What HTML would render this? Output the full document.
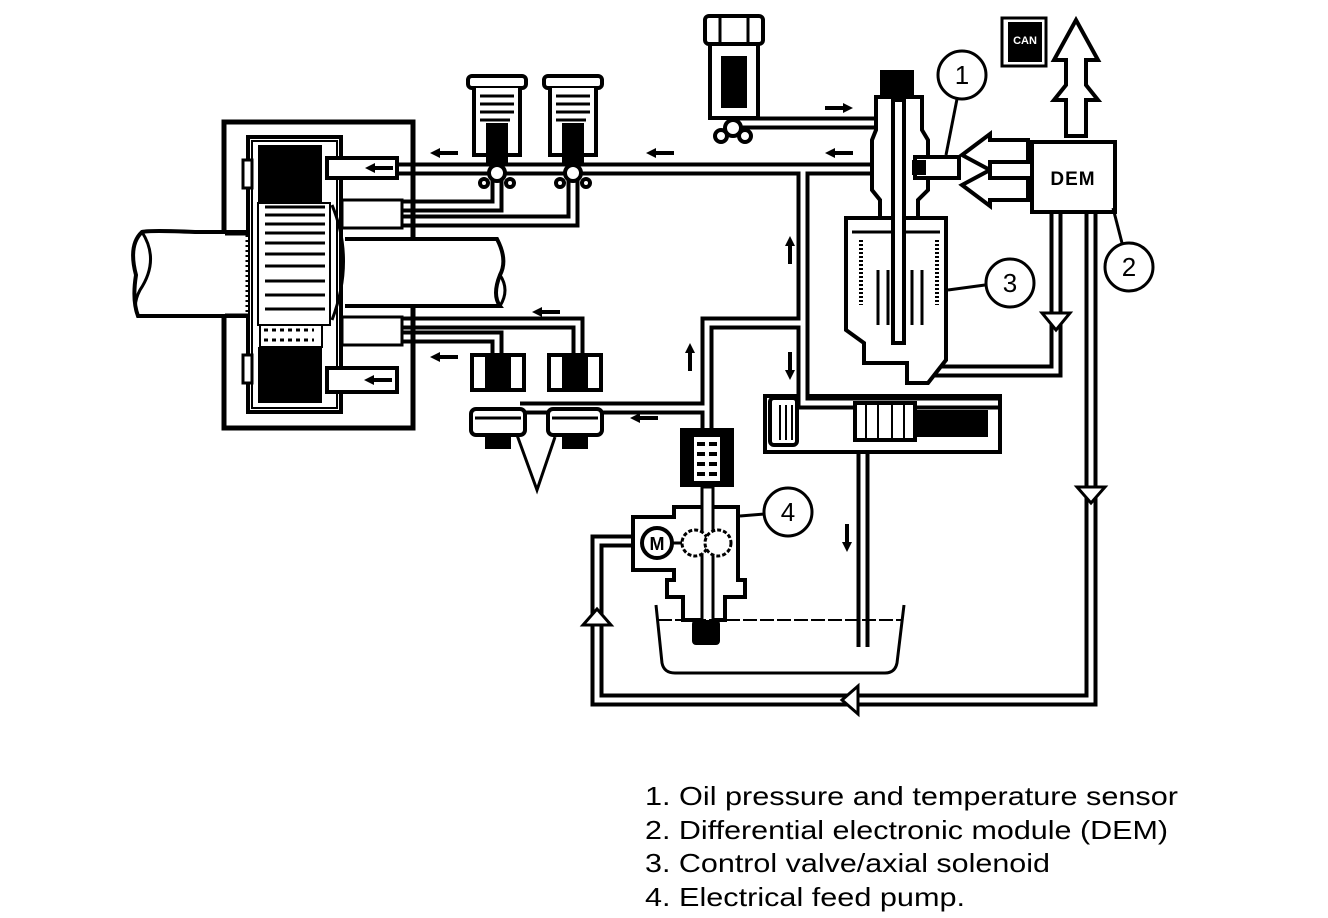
<!DOCTYPE html>
<html><head><meta charset="utf-8"><style>
html,body{margin:0;padding:0;background:#fff;}
svg{display:block;}
.t{font-family:"Liberation Sans",sans-serif;font-size:26px;fill:#000;}
</style></head><body>
<svg width="1328" height="918" viewBox="0 0 1328 918" xmlns="http://www.w3.org/2000/svg">
<rect width="1328" height="918" fill="#fff"/>
<defs>
<g id="al"><path d="M0 0 L10 -5 L10 -2 L28 -2 L28 2 L10 2 L10 5 Z" fill="#000"/></g>
</defs>

<!-- PIPES (double line) -->
<g fill="none" stroke-linejoin="miter" stroke-linecap="butt">
<g stroke="#000" stroke-width="13">
  <path d="M395 169 H880"/>
  <path d="M733 123 H880"/>
  <path d="M803 169 V323 H707 V440"/>
  <path d="M803 323 V403 H1000"/>
  <path d="M497 169 V206 H395"/>
  <path d="M573 169 V221 H395"/>
  <path d="M395 323 H578 V360"/>
  <path d="M395 337 H497 V360"/>
  <path d="M520 408 H707"/>
  <path d="M863 450 V647"/>
  <path d="M1056 212 V371 H935"/>
  <path d="M1091 212 V700 H597 V541 H632"/>
</g>
<g stroke="#fff" stroke-width="5">
  <path d="M395 169 H880"/>
  <path d="M733 123 H880"/>
  <path d="M803 169 V323 H707 V440"/>
  <path d="M803 323 V403 H1000"/>
  <path d="M497 169 V206 H395"/>
  <path d="M573 169 V221 H395"/>
  <path d="M395 323 H578 V360"/>
  <path d="M395 337 H497 V360"/>
  <path d="M520 408 H707"/>
  <path d="M863 450 V647"/>
  <path d="M1056 212 V371 H935"/>
  <path d="M1091 212 V700 H597 V541 H632"/>
</g>
</g>

<!-- hollow arrowheads on return pipes -->
<g fill="#fff" stroke="#000" stroke-width="3">
  <path d="M1042 313 L1070 313 L1056 330 Z"/>
  <path d="M1077 487 L1105 487 L1091 503 Z"/>
  <path d="M583 625 L611 625 L597 609 Z"/>
  <path d="M858 686 L858 714 L842 700 Z"/>
</g>

<!-- housing -->
<g fill="none" stroke="#000">
  <rect x="224" y="122" width="189" height="306" stroke-width="5"/>
  <rect x="248" y="137" width="93" height="275" stroke-width="4"/>
  <rect x="252" y="141" width="85" height="267" stroke-width="2"/>
</g>
<rect x="243" y="160" width="9" height="28" fill="#fff" stroke="#000" stroke-width="3"/>
<rect x="243" y="355" width="9" height="28" fill="#fff" stroke="#000" stroke-width="3"/>
<rect x="258" y="145" width="64" height="58" fill="#000"/>
<rect x="258" y="347" width="64" height="56" fill="#000"/>
<!-- rotor -->
<rect x="258" y="203" width="72" height="122" fill="#fff" stroke="#000" stroke-width="2"/>
<g stroke="#000" stroke-width="3">
  <line x1="265" y1="207" x2="325" y2="207"/><line x1="265" y1="215" x2="325" y2="215"/>
  <line x1="265" y1="224" x2="325" y2="224"/><line x1="265" y1="233" x2="325" y2="233"/>
  <line x1="265" y1="243" x2="325" y2="243"/><line x1="265" y1="254" x2="325" y2="254"/>
  <line x1="265" y1="266" x2="325" y2="266"/><line x1="265" y1="281" x2="325" y2="281"/>
  <line x1="265" y1="295" x2="325" y2="295"/><line x1="265" y1="309" x2="325" y2="309"/>
</g>
<rect x="260" y="325" width="62" height="22" fill="#fff" stroke="#000" stroke-width="2"/>
<g stroke="#000" stroke-width="3"><path d="M264 330 h50 M264 340 h50" stroke-dasharray="4 4"/></g>
<path d="M332 205 Q355 260 332 320" fill="none" stroke="#000" stroke-width="3"/>
<!-- pistons -->
<rect x="327" y="158" width="70" height="20" fill="#fff" stroke="#000" stroke-width="4"/>
<rect x="327" y="368" width="70" height="24" fill="#fff" stroke="#000" stroke-width="4"/>
<!-- connection blocks -->
<g fill="#fff" stroke="#000" stroke-width="3">
  <rect x="342" y="200" width="60" height="28"/>
  <rect x="342" y="317" width="60" height="28"/>
</g>
<!-- left shaft -->
<path d="M248 232 H195 Q150 230 142 232 Q128 245 136 275 Q132 300 138 316 H195 H248" fill="#fff" stroke="#000" stroke-width="4"/>
<path d="M142 232 Q160 260 140 290 Q132 305 138 316" fill="none" stroke="#000" stroke-width="3"/>
<rect x="225" y="234" width="22" height="81" fill="#fff"/>
<path d="M225 234 H248 M225 315 H248" stroke="#000" stroke-width="3"/>
<line x1="247" y1="235" x2="247" y2="315" stroke="#000" stroke-width="3" stroke-dasharray="2 3"/>
<!-- right shaft -->
<path d="M345 239 H497 Q508 260 500 275 Q492 295 500 306 H345" fill="#fff" stroke="#000" stroke-width="4"/>
<path d="M500 275 Q510 290 500 306" fill="none" stroke="#000" stroke-width="3"/>

<!-- top-left valves -->
<g id="tv" fill="#fff" stroke="#000" stroke-width="4">
  <rect x="468" y="76" width="58" height="12" rx="4"/>
  <path d="M474 88 V155 H520 V88"/>
  <g stroke-width="3"><path d="M480 96 h34 M480 104 h34 M480 112 h34 M480 120 h30"/></g>
  <rect x="488" y="125" width="18" height="38" fill="#000"/>
  <circle cx="497" cy="173" r="8" fill="#fff"/>
  <circle cx="484" cy="183" r="4"/><circle cx="510" cy="183" r="4"/>
</g>
<use href="#tv" x="76"/>
<!-- bottom valves -->
<g id="bv" fill="#fff" stroke="#000" stroke-width="4">
  <path d="M472 355 H524 V390 H472 Z"/>
  <rect x="487" y="358" width="22" height="28" fill="#000"/>
  <rect x="471" y="409" width="54" height="26" rx="5"/>
  <path d="M475 418 h46" stroke-width="3"/>
  <rect x="487" y="435" width="22" height="12" fill="#000"/>
</g>
<use href="#bv" x="77"/>
<path d="M517 435 L537 490 L555 437" fill="none" stroke="#000" stroke-width="3"/>

<!-- centre top valve -->
<g fill="#fff" stroke="#000" stroke-width="4">
  <rect x="705" y="16" width="58" height="28" rx="4"/>
  <path d="M720 18 V42 M748 18 V42" stroke-width="3"/>
  <path d="M710 44 H758 V118 H710 Z"/>
  <rect x="723" y="58" width="22" height="48" fill="#000"/>
  <circle cx="733" cy="128" r="8"/>
  <circle cx="721" cy="136" r="6"/><circle cx="745" cy="136" r="6"/>
</g>

<!-- solenoid / control valve -->
<g fill="#fff" stroke="#000" stroke-width="4">
  <path d="M876 97 H922 V130 L928 140 V190 L918 200 V218 H880 V200 L872 190 V140 L876 130 Z"/>
  <rect x="882" y="72" width="30" height="25" fill="#000"/>
  <path d="M846 218 H946 V360 L928 383 H907 V363 H864 V343 L846 330 Z"/>
  <path d="M852 232 H940" stroke-width="3"/>
  <rect x="893" y="100" width="11" height="243"/>
  <path d="M878 270 V325 M888 270 V325 M912 270 V325 M922 270 V325" stroke-width="3"/>
</g>
<g stroke="#000" stroke-width="4" stroke-dasharray="2 2">
  <line x1="861" y1="240" x2="861" y2="305"/><line x1="937" y1="240" x2="937" y2="305"/>
</g>
<!-- sensor 1 -->
<rect x="915" y="157" width="44" height="21" fill="#fff" stroke="#000" stroke-width="4"/>
<rect x="912" y="160" width="14" height="15" fill="#000"/>
<!-- horizontal double arrows -->
<g fill="#fff" stroke="#000" stroke-width="4">
  <path d="M1028 140 H990 V134 L962 155 L990 170 V162 H1028 Z"/>
  <path d="M1028 178 H990 V170 L962 185 L990 206 V200 H1028 Z"/>
</g>
<!-- DEM -->
<rect x="1032" y="142" width="83" height="70" fill="#fff" stroke="#000" stroke-width="4"/>
<text x="1073" y="185" text-anchor="middle" font-family="Liberation Sans, sans-serif" font-weight="bold" font-size="19" letter-spacing="1">DEM</text>
<!-- CAN icon -->
<rect x="1002" y="18" width="44" height="48" fill="#fff" stroke="#000" stroke-width="3"/>
<rect x="1008" y="22" width="34" height="40" fill="#000"/>
<text x="1025" y="44" text-anchor="middle" font-family="Liberation Sans, sans-serif" font-weight="bold" font-size="11" fill="#fff">CAN</text>
<!-- vertical double arrow -->
<path d="M1066 136 V100 L1054 100 L1066 85 V60 L1054 60 L1076 20 L1098 60 L1086 60 V85 L1098 100 L1086 100 V136 Z" fill="#fff" stroke="#000" stroke-width="4"/>

<!-- lower right valve box -->
<path d="M809 396 H1000 V452 H765 V396 H797" fill="none" stroke="#000" stroke-width="4"/>
<rect x="770" y="398" width="27" height="47" rx="4" fill="#fff" stroke="#000" stroke-width="4"/>
<path d="M780 405 V440 M786 405 V440 M792 405 V440" stroke="#000" stroke-width="2"/>
<rect x="855" y="403" width="60" height="37" fill="#fff" stroke="#000" stroke-width="4"/>
<path d="M866 405 V438 M878 405 V438 M892 405 V438 M904 405 V438" stroke="#000" stroke-width="2"/>
<rect x="913" y="410" width="75" height="27" fill="#000"/>

<!-- filter box & pump -->
<rect x="680" y="428" width="54" height="59" fill="#000"/>
<rect x="694" y="437" width="26" height="44" fill="#fff"/>
<g fill="#000"><rect x="697" y="442" width="8" height="4"/><rect x="709" y="442" width="8" height="4"/><rect x="697" y="452" width="8" height="4"/><rect x="709" y="452" width="8" height="4"/><rect x="697" y="462" width="8" height="4"/><rect x="709" y="462" width="8" height="4"/><rect x="697" y="472" width="8" height="4"/><rect x="709" y="472" width="8" height="4"/></g>
<path d="M633 517 H674 V507 H738 V570 H738 V580 H745 V597 H725 V620 H683 V597 H667 V580 H674 V570 H633 Z" fill="#fff" stroke="#000" stroke-width="4"/>
<rect x="702" y="487" width="11" height="135" fill="#fff" stroke="#000" stroke-width="3"/>
<rect x="692" y="620" width="28" height="25" rx="4" fill="#000"/>
<circle cx="657" cy="543" r="15" fill="#fff" stroke="#000" stroke-width="4"/>
<text x="657" y="550" text-anchor="middle" font-family="Liberation Sans, sans-serif" font-weight="bold" font-size="18">M</text>
<circle cx="695" cy="543" r="13" fill="#fff" stroke="#000" stroke-width="3" stroke-dasharray="4 2"/>
<circle cx="718" cy="543" r="13" fill="#fff" stroke="#000" stroke-width="3" stroke-dasharray="4 2"/>
<line x1="672" y1="543" x2="682" y2="543" stroke="#000" stroke-width="3"/>
<!-- tank -->
<path d="M656 605 L662 663 Q664 673 675 673 H885 Q895 673 897 663 L904 605" fill="none" stroke="#000" stroke-width="3"/>
<path d="M658 620 H902" stroke="#000" stroke-width="2" stroke-dasharray="14 3"/>

<!-- small solid arrows -->
<g fill="#000">
  <use href="#al" x="430" y="153"/>
  <use href="#al" x="646" y="153"/>
  <use href="#al" x="825" y="153"/>
  <use href="#al" x="365" y="168"/>
  <use href="#al" x="532" y="312"/>
  <use href="#al" x="430" y="357"/>
  <use href="#al" x="364" y="380"/>
  <use href="#al" x="630" y="418"/>
  <use href="#al" transform="translate(853 108) rotate(180)"/>
  <use href="#al" transform="translate(790 236) rotate(90)"/>
  <use href="#al" transform="translate(690 343) rotate(90)"/>
  <use href="#al" transform="translate(790 380) rotate(-90)"/>
  <use href="#al" transform="translate(847 552) rotate(-90)"/>
</g>

<!-- label circles -->
<g fill="#fff" stroke="#000" stroke-width="3">
  <line x1="957" y1="99" x2="946" y2="155"/>
  <line x1="1113" y1="208" x2="1122" y2="243"/>
  <line x1="948" y1="290" x2="985" y2="285"/>
  <line x1="740" y1="516" x2="765" y2="514"/>
  <circle cx="962" cy="75" r="24"/>
  <circle cx="1129" cy="267" r="24"/>
  <circle cx="1010" cy="283" r="24"/>
  <circle cx="788" cy="512" r="24"/>
</g>
<g font-family="Liberation Sans, sans-serif" font-size="26" text-anchor="middle" fill="#000">
  <text x="962" y="84">1</text><text x="1129" y="276">2</text>
  <text x="1010" y="292">3</text><text x="788" y="521">4</text>
</g>

<!-- legend -->
<text class="t" x="645" y="805" textLength="533" lengthAdjust="spacingAndGlyphs">1. Oil pressure and temperature sensor</text>
<text class="t" x="645" y="839" textLength="523" lengthAdjust="spacingAndGlyphs">2. Differential electronic module (DEM)</text>
<text class="t" x="645" y="872" textLength="405" lengthAdjust="spacingAndGlyphs">3. Control valve/axial solenoid</text>
<text class="t" x="645" y="906" textLength="320" lengthAdjust="spacingAndGlyphs">4. Electrical feed pump.</text>
</svg>
</body></html>
